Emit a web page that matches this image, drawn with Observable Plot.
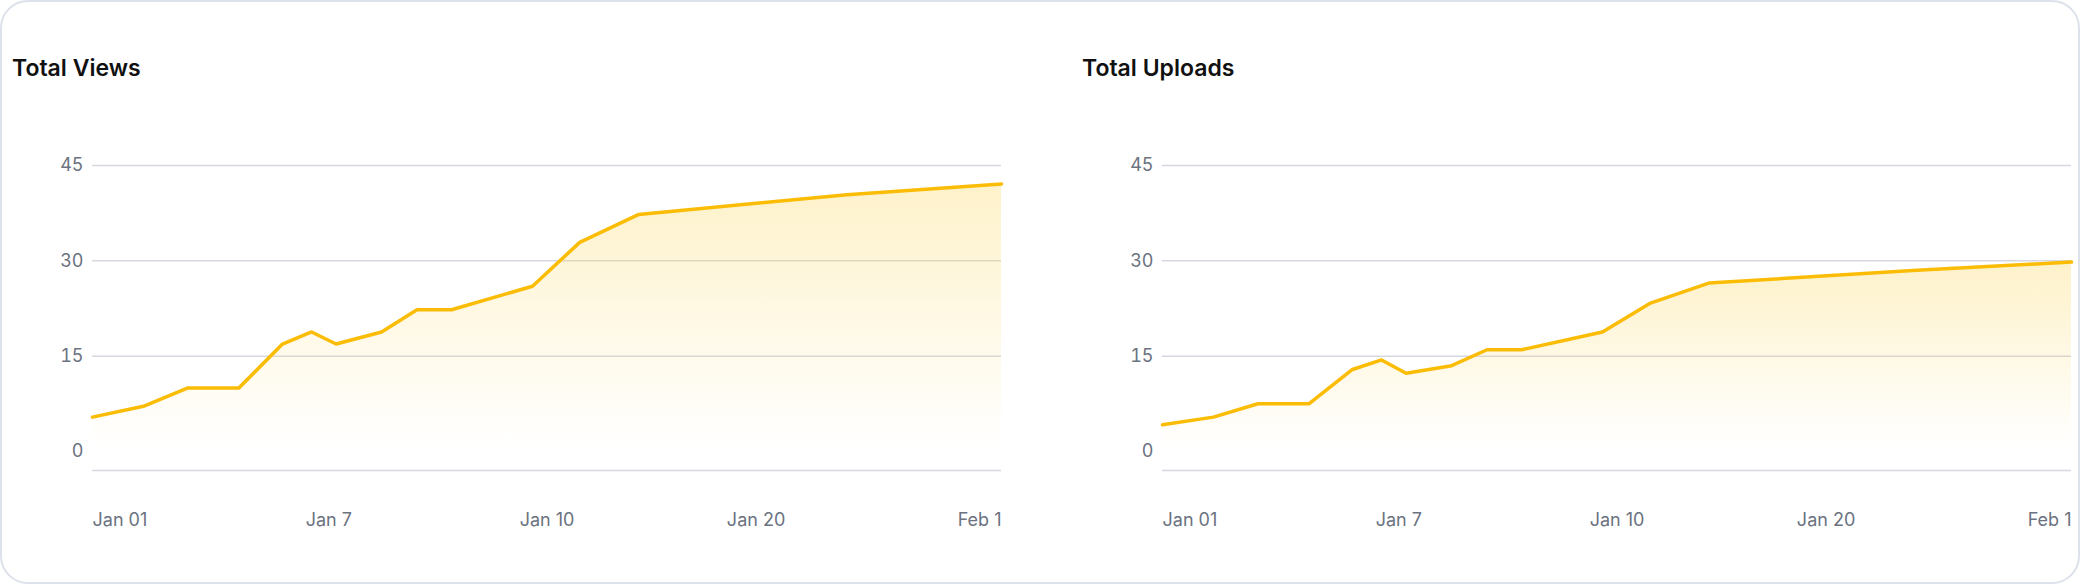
<!DOCTYPE html>
<html>
<head>
<meta charset="utf-8">
<script src="https://cdn.jsdelivr.net/npm/d3@7"></script>
<script src="https://cdn.jsdelivr.net/npm/@observablehq/plot@0.6"></script>
<style>
  body { margin: 0; background: #fff; font-family: Inter, sans-serif; }
  .card { position: absolute; left: 0; top: 0; width: 2076px; height: 580px; border: 2px solid #dde1ea; border-radius: 28px; }
  .panel { position: absolute; top: 0; width: 1012px; height: 580px; }
  .title { position: absolute; top: 52px; left: 10px; font-size: 23px; font-weight: 600; color: #111; white-space: nowrap; }
  .chart { position: absolute; top: 120px; left: 0; width: 1012px; }
</style>
</head>
<body>
<div class="card">
  <div class="panel" style="left:0"><div class="title">Total Views</div><div class="chart" id="chart1"></div></div>
  <div class="panel" style="left:1070px"><div class="title">Total Uploads</div><div class="chart" id="chart2"></div></div>
</div>
<script>
// position along the axis (0–100) of each point
const pos = [0, 5.6, 10.5, 16.1, 20.9, 24.1, 26.8, 31.8, 35.7, 39.5, 48.4, 53.6, 60.1, 83, 100]
const views = [5.4, 7.1, 10, 10, 16.9, 18.8, 16.9, 18.8, 22.3, 22.3, 26, 32.9, 37.3, 40.4, 42.1]
const uploads = [4.2, 5.4, 7.5, 7.5, 12.9, 14.4, 12.3, 13.5, 16, 16, 18.8, 23.3, 26.5, 28.5, 29.8]
const tickPos = [0, 26, 50, 73, 100]
const tickLabels = ["Jan 01", "Jan 7", "Jan 10", "Jan 20", "Feb 1"]
const yTicks = [0, 15, 30, 45]

function chart(values, id) {
  const data = pos.map((x, i) => ({ x, y: values[i] }))
  const ticks = tickPos.map((x, i) => ({ x, label: tickLabels[i] }))
  const gid = "grad-" + id
  return Plot.plot({
    width: 1012, height: 420,
    marginLeft: 90, marginRight: 13, marginTop: 43, marginBottom: 72,
    style: { fontFamily: "Inter, sans-serif", fontSize: "18px", color: "#6b7280", maxWidth: "none" },
    x: { domain: [0, 100], axis: null },
    y: { domain: [-3, 45], ticks: yTicks, tickSize: 0, label: null, textAnchor: "start", dx: -88 },
    marks: [
      () => {
        const defs = d3.create("svg:defs")
        const g = defs.append("linearGradient").attr("id", gid).attr("x1", 0).attr("x2", 0).attr("y1", 0).attr("y2", 1)
        g.append("stop").attr("offset", "0%").attr("stop-color", "#fcd34d").attr("stop-opacity", 0.3)
        g.append("stop").attr("offset", "100%").attr("stop-color", "#fcd34d").attr("stop-opacity", 0)
        return defs.node()
      },
      Plot.gridY([15, 30, 45], { stroke: "#d5d8e0", strokeOpacity: 1, strokeWidth: 1.5 }),
      Plot.ruleY([-3], { stroke: "#d5d8e0", strokeWidth: 1.5 }),
      Plot.areaY(data, { x: "x", y1: 0.5, y2: "y", fill: `url(#${gid})` }),
      Plot.line(data, { x: "x", y: "y", stroke: "#fbbc05", strokeWidth: 3.5 }),
      Plot.text(ticks.slice(0, 1), { x: "x", text: "label", frameAnchor: "bottom", textAnchor: "start", dy: 55, fill: "#6b7280" }),
      Plot.text(ticks.slice(1, 4), { x: "x", text: "label", frameAnchor: "bottom", dy: 55, fill: "#6b7280" }),
      Plot.text(ticks.slice(4), { x: "x", text: "label", frameAnchor: "bottom", textAnchor: "end", dy: 55, fill: "#6b7280" })
    ]
  })
}

d3.select("#chart1").append(() => chart(views, "v"))
d3.select("#chart2").append(() => chart(uploads, "u"))
</script>
</body>
</html>
